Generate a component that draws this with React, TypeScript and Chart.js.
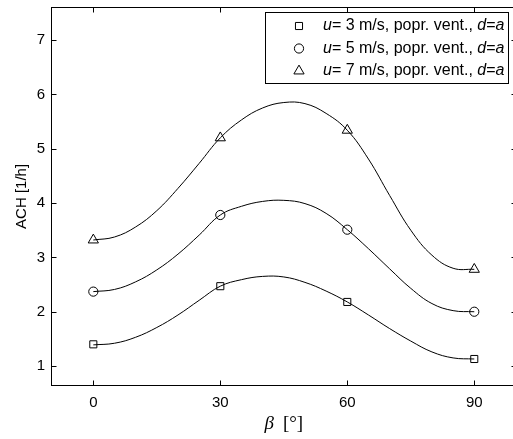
import React, { useEffect, useRef } from 'react';
import { Chart, registerables } from 'chart.js';

Chart.register(...registerables);

// Measured points
const angles = [0, 30, 60, 90];
const ach3 = [1.40, 2.47, 2.18, 1.13];
const ach5 = [2.37, 3.78, 3.51, 2.00];
const ach7 = [3.32, 5.20, 5.34, 2.78];

// Fitted curves, every 5 degrees
const fitAngles = [0, 5, 10, 15, 20, 25, 30, 35, 40, 45, 50, 55, 60, 65, 70, 75, 80, 85, 90];
const fit3 = [1.39, 1.42, 1.53, 1.71, 1.94, 2.21, 2.47, 2.59, 2.65, 2.64, 2.54, 2.38, 2.18, 1.94, 1.69, 1.46, 1.26, 1.15, 1.13];
const fit5 = [2.37, 2.41, 2.55, 2.77, 3.06, 3.41, 3.78, 3.94, 4.03, 4.05, 3.99, 3.81, 3.51, 3.16, 2.79, 2.43, 2.15, 2.02, 2.00];
const fit7 = [3.32, 3.375, 3.56, 3.86, 4.27, 4.73, 5.20, 5.53, 5.75, 5.85, 5.83, 5.65, 5.34, 4.81, 4.14, 3.50, 3.04, 2.80, 2.78];

const xTicks = [0, 30, 60, 90];
const yTicks = [1, 2, 3, 4, 5, 6, 7];
const speeds = ['3', '5', '7'];
const markerStyles = ['rect', 'circle', 'triangle'];
const markerRadii = [5, 4.6, 5.9];
const xTitleSymbol = 'β';
const xTitleUnit = '[°]';
const yTitle = 'ACH [1/h]';

const SANS = "'Liberation Sans', Arial, Helvetica, sans-serif";
const SERIF = "'Liberation Serif', 'Times New Roman', serif";

function toXY(xs: number[], ys: number[]) {
  return xs.map((x, i) => ({ x, y: ys[i] }));
}

function drawMarker(ctx: CanvasRenderingContext2D, style: string, x: number, y: number, r: number) {
  ctx.beginPath();
  if (style === 'rect') {
    const s = r * Math.SQRT1_2;
    ctx.rect(x - s, y - s, 2 * s, 2 * s);
  } else if (style === 'circle') {
    ctx.arc(x, y, r, 0, Math.PI * 2);
  } else {
    ctx.moveTo(x, y - r);
    ctx.lineTo(x + Math.sin((2 * Math.PI) / 3) * r, y + 0.5 * r);
    ctx.lineTo(x - Math.sin((2 * Math.PI) / 3) * r, y + 0.5 * r);
    ctx.closePath();
  }
  ctx.stroke();
}

export default function App() {
  const ref = useRef<HTMLCanvasElement>(null);

  useEffect(() => {
    const canvas = ref.current!;
    const W = 530;
    const H = 439;

    const matlabPlugin = {
      id: 'matlabDecor',
      afterDraw(chart: any) {
        const ctx: CanvasRenderingContext2D = chart.ctx;
        const a = chart.chartArea;
        const sx = chart.scales.x;
        const sy = chart.scales.y;
        ctx.save();
        ctx.strokeStyle = '#000';
        ctx.lineWidth = 1;
        const L = Math.round(a.left) + 0.5;
        const R = Math.round(a.right) - 0.5;
        const T = Math.round(a.top) + 0.5;
        const B = Math.round(a.bottom) - 0.5;
        ctx.strokeRect(L, T, R - L, B - T);
        const tl = 5;
        ctx.beginPath();
        sx.ticks.forEach((t: any) => {
          const px = Math.round(sx.getPixelForValue(t.value)) + 0.5;
          ctx.moveTo(px, B);
          ctx.lineTo(px, B - tl);
          ctx.moveTo(px, T);
          ctx.lineTo(px, T + tl);
        });
        sy.ticks.forEach((t: any) => {
          const py = Math.round(sy.getPixelForValue(t.value)) + 0.5;
          ctx.moveTo(L, py);
          ctx.lineTo(L + tl, py);
          ctx.moveTo(R, py);
          ctx.lineTo(R - tl, py);
        });
        ctx.stroke();

        // Legend
        const lx0 = 265.5, ly0 = 12.5, lx1 = 508.5, ly1 = 83.5;
        ctx.fillStyle = '#fff';
        ctx.fillRect(lx0, ly0, lx1 - lx0, ly1 - ly0);
        ctx.strokeRect(lx0, ly0, lx1 - lx0, ly1 - ly0);
        const rows = [26, 48.5, 71];
        speeds.forEach((sp, i) => {
          const y = rows[i];
          ctx.strokeStyle = '#000';
          drawMarker(ctx, markerStyles[i], 299, y, markerRadii[i]);
          const parts: [string, boolean][] = [
            ['u', true],
            ['= ' + sp + ' m/s, popr. vent., ', false],
            ['d', true],
            ['=', false],
            ['a', true],
          ];
          let x = 323;
          ctx.fillStyle = '#000';
          ctx.textBaseline = 'middle';
          ctx.textAlign = 'left';
          parts.forEach(([t, it]) => {
            ctx.font = (it ? 'italic ' : '') + '16px ' + SANS;
            ctx.fillText(t, x, y);
            x += ctx.measureText(t).width;
          });
        });

        // X axis title
        ctx.fillStyle = '#000';
        ctx.textBaseline = 'alphabetic';
        ctx.textAlign = 'left';
        const fs = 19;
        ctx.font = 'italic ' + fs + 'px ' + SERIF;
        const wb = ctx.measureText(xTitleSymbol).width;
        ctx.font = fs + 'px ' + SERIF;
        const wu = ctx.measureText(xTitleUnit).width;
        const gap = 9;
        const total = wb + gap + wu;
        const cx = (a.left + a.right) / 2;
        const xx = cx - total / 2;
        ctx.font = 'italic ' + fs + 'px ' + SERIF;
        ctx.fillText(xTitleSymbol, xx, 429);
        ctx.font = fs + 'px ' + SERIF;
        ctx.fillText(xTitleUnit, xx + wb + gap, 429);

        // Y axis title
        ctx.save();
        ctx.translate(22, (a.top + a.bottom) / 2);
        ctx.rotate(-Math.PI / 2);
        ctx.textAlign = 'center';
        ctx.textBaseline = 'middle';
        ctx.font = '15px ' + SANS;
        ctx.fillText(yTitle, 0, 0);
        ctx.restore();

        ctx.restore();
      },
    };

    const fits = [fit3, fit5, fit7];
    const pts = [ach3, ach5, ach7];
    const datasets: any[] = [];
    fits.forEach((f) => {
      datasets.push({
        type: 'line',
        data: toXY(fitAngles, f),
        borderColor: '#000',
        borderWidth: 1,
        pointRadius: 0,
        fill: false,
        tension: 0.4,
        order: 2,
      });
    });
    pts.forEach((p, i) => {
      datasets.push({
        type: 'line',
        data: toXY(angles, p),
        showLine: false,
        borderColor: '#000',
        backgroundColor: 'rgba(0,0,0,0)',
        pointStyle: markerStyles[i],
        pointRadius: markerRadii[i],
        pointBorderWidth: 1,
        pointBorderColor: '#000',
        pointBackgroundColor: 'rgba(0,0,0,0)',
        order: 1,
      });
    });

    const chart = new Chart(canvas, {
      type: 'line',
      data: { datasets },
      plugins: [matlabPlugin],
      options: {
        responsive: false,
        animation: false,
        devicePixelRatio: 1,
        layout: { padding: { left: 0, top: 6, right: W - 516.6, bottom: 0 } },
        plugins: {
          legend: { display: false },
          tooltip: { enabled: false },
          title: { display: false },
        },
        scales: {
          x: {
            type: 'linear',
            min: -10,
            max: 100,
            afterFit: (s: any) => { s.height = H - 386; s.paddingLeft = 0; s.paddingRight = 0; },
            afterBuildTicks: (s: any) => { s.ticks = xTicks.map((v) => ({ value: v })); },
            grid: { display: false, drawTicks: false },
            border: { display: false },
            ticks: { color: '#000', font: { family: SANS, size: 15 }, padding: 8, maxRotation: 0, autoSkip: false },
          },
          y: {
            type: 'linear',
            min: 0.633,
            max: 7.61,
            afterFit: (s: any) => { s.width = 51; s.paddingTop = 0; s.paddingBottom = 0; },
            afterBuildTicks: (s: any) => { s.ticks = yTicks.map((v) => ({ value: v })); },
            grid: { display: false, drawTicks: false },
            border: { display: false },
            ticks: { color: '#000', font: { family: SANS, size: 15 }, padding: 6, autoSkip: false },
          },
        },
      } as any,
    });
    return () => chart.destroy();
  }, []);

  return (
    <div style={{ position: 'absolute', left: 0, top: 0, width: 513, height: 439, overflow: 'hidden', background: '#fff' }}>
      <canvas ref={ref} width={530} height={439} style={{ display: 'block' }} />
    </div>
  );
}
